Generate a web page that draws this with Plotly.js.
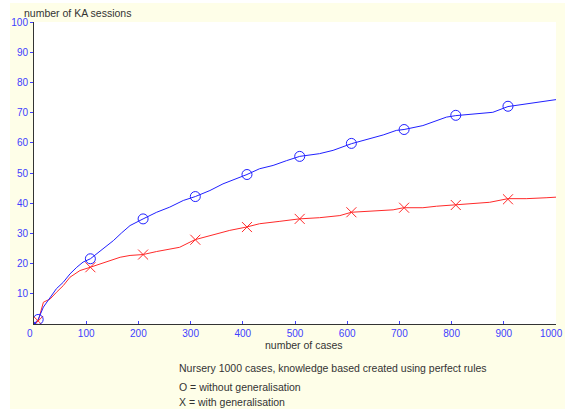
<!DOCTYPE html>
<html>
<head>
<meta charset="utf-8">
<script src="https://cdn.plot.ly/plotly-3.0.1.min.js"></script>
<style>
  html, body { margin: 0; padding: 0; background: #ffffff; overflow: hidden; }
  #chart { position: absolute; left: 10px; top: 3px; width: 555px; height: 406px; }
</style>
</head>
<body>
<div id="chart"></div>
<script>
// Without generalisation (blue, O markers)
const blueCases = [0, 8, 18, 31, 43, 56, 69, 82, 94, 108, 120, 139, 152, 168, 184, 209, 235, 260, 286, 309, 337, 362, 388, 408, 432, 458, 484, 509, 547, 573, 608, 643, 669, 694, 709, 745, 771, 790, 808, 847, 879, 908, 937, 956, 988, 1000];
const blueSessions = [0, 1.5, 5.6, 8.9, 11.7, 13.8, 16.6, 18.8, 20.5, 21.6, 23.2, 26, 27.6, 30.2, 32.6, 34.8, 37, 38.7, 40.9, 42.2, 44.2, 46.4, 48.1, 49.5, 51.4, 52.5, 54.1, 55.5, 56.4, 57.5, 59.7, 61.3, 62.6, 64.1, 64.4, 65.7, 67.4, 68.5, 69, 69.6, 70.1, 72, 72.7, 73.1, 74, 74.3];

// With generalisation (red, X markers)
const redCases = [0, 8, 18, 31, 43, 56, 69, 88, 108, 126, 145, 165, 184, 209, 235, 279, 308, 337, 375, 407, 432, 471, 508, 547, 586, 608, 643, 688, 708, 745, 771, 808, 841, 873, 908, 943, 981, 1000];
const redSessions = [0, 1, 7.2, 8.3, 10.5, 12.7, 15.5, 17.7, 18.8, 19.9, 21, 22.1, 22.7, 23, 24, 25.4, 27.9, 29.3, 31, 32.1, 33.2, 34, 34.8, 35.2, 35.9, 37, 37.3, 37.8, 38.5, 38.5, 39, 39.5, 39.8, 40.3, 41.5, 41.5, 41.8, 42];

// Marker positions
const markerCases = [8, 108, 209, 309, 408, 509, 608, 709, 808, 908];
const blueMarkerVals = [1.5, 21.6, 34.8, 42.2, 49.5, 55.5, 59.8, 64.4, 69.1, 72.1];
const redMarkerVals = [1, 18.8, 23, 27.9, 32.1, 34.8, 37, 38.5, 39.4, 41.3];

const xTicks = [0, 100, 200, 300, 400, 500, 600, 700, 800, 900, 1000];
const yTicks = [10, 20, 30, 40, 50, 60, 70, 80, 90, 100];

const xTitle = "number of cases";
const yTitle = "number of KA sessions";
const noteLines = [
  "Nursery 1000 cases, knowledge based created using perfect rules",
  "O = without generalisation",
  "X = with generalisation"
];

// plot area in page pixels
const PL = 34, PR = 556, PT = 22, PB = 324;
const fx = px => (px - PL) / (PR - PL);
const fy = py => (PB - py) / (PB - PT);

const blueC = "#2020ff", redC = "#ff2a2a", tickC = "#4040ff";
const font = "Liberation Sans, Arial, sans-serif";

// first tick label nudged left (as in the original) by trailing non-breaking spaces;
// the last one is pulled inside the figure edge as an annotation anchored on its tick
const pad = "\u00a0\u00a0\u00a0";
const lastTick = xTicks[xTicks.length - 1];
const xTickText = xTicks.map((v, i) => i === 0 ? String(v) + pad : (i === xTicks.length - 1 ? "" : String(v)));

const traces = [
  {x: redCases, y: redSessions, type: "scatter", mode: "lines",
   line: {color: redC, width: 1}, hoverinfo: "skip"},
  {x: blueCases, y: blueSessions, type: "scatter", mode: "lines",
   line: {color: blueC, width: 1}, hoverinfo: "skip"},
  {x: markerCases, y: redMarkerVals, type: "scatter", mode: "markers",
   marker: {symbol: "x-thin-open", size: 10, color: redC, line: {color: redC, width: 1}}},
  {x: markerCases, y: blueMarkerVals, type: "scatter", mode: "markers",
   marker: {symbol: "circle-open", size: 10, color: blueC, line: {color: blueC, width: 1}}}
];

const ann = [
  {text: yTitle, x: fx(22), y: fy(13), xanchor: "left", yanchor: "middle"},
  {text: xTitle, x: fx(304), y: fy(345), xanchor: "center", yanchor: "middle"},
  {text: noteLines[0], x: fx(177), y: fy(368), xanchor: "left", yanchor: "middle"},
  {text: noteLines[1], x: fx(177), y: fy(387), xanchor: "left", yanchor: "middle"},
  {text: noteLines[2], x: fx(177), y: fy(402), xanchor: "left", yanchor: "middle"}
].map(a => Object.assign({xref: "paper", yref: "paper", showarrow: false,
  font: {family: font, size: 10.5, color: "#333333"}}, a));

ann.push({text: String(lastTick), xref: "x", x: lastTick, yref: "paper", y: fy(333.5),
  xanchor: "right", yanchor: "middle", xshift: 8, showarrow: false, borderpad: 0,
  font: {family: font, size: 10, color: tickC}});

const layout = {
  width: 555, height: 406,
  margin: {l: PL - 10, r: 565 - PR, t: PT - 3, b: 409 - PB},
  paper_bgcolor: "#fefee8",
  plot_bgcolor: "#ffffff",
  showlegend: false,
  font: {family: font, size: 10.5, color: "#333333"},
  xaxis: {
    range: [0, 1000], tickvals: xTicks, ticktext: xTickText,
    showgrid: false, zeroline: false, showline: true, linecolor: "#333333", linewidth: 1,
    ticks: "inside", ticklen: 3, tickcolor: tickC,
    tickfont: {family: font, size: 10, color: tickC}, fixedrange: true
  },
  yaxis: {
    range: [0, 100], tickvals: yTicks, ticktext: yTicks.map(String),
    showgrid: false, zeroline: false, showline: true, linecolor: "#333333", linewidth: 1,
    ticks: "outside", ticklen: 3, tickcolor: tickC,
    tickfont: {family: font, size: 10, color: tickC}, fixedrange: true
  },
  annotations: ann
};

Plotly.newPlot("chart", traces, layout, {staticPlot: true, displayModeBar: false});
</script>
</body>
</html>
